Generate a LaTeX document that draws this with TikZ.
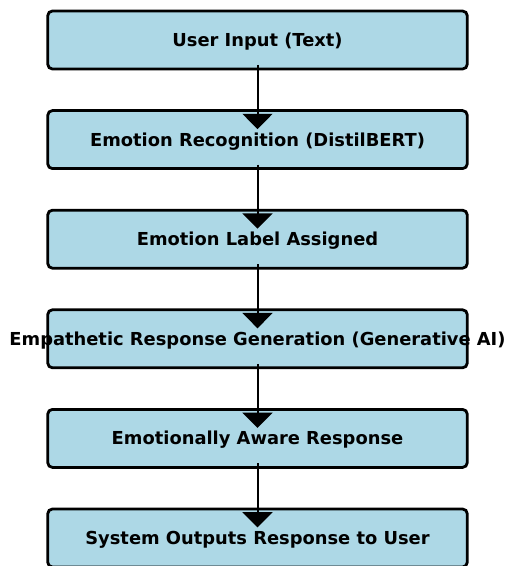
\documentclass[tikz,border=0pt]{standalone}
\usepackage{fontspec}
\setmainfont{DejaVu Sans}
\usepackage{tikz}
\usetikzlibrary{arrows.meta}
\usetikzlibrary{calc}
\definecolor{boxblue}{HTML}{ADD8E6}

\begin{document}
\begin{tikzpicture}[x=0.75pt, y=0.75pt,
        stepbox/.style={draw=black, fill=boxblue, line width=2.1pt, rounded corners=3.5pt,
            minimum width=419.5*0.75pt, minimum height=58*0.75pt, inner sep=0pt},
        steptext/.style={font=\bfseries\fontsize{13.4pt}{15pt}\selectfont, inner sep=0pt, yshift=-1.2pt},
        flow/.style={line width=1.5pt, -{Triangle[width=22.5pt, length=11.5pt]}}]
        \useasboundingbox (0,0) rectangle (507,-566);

        \node[stepbox] (input) at (257.5,-40) {};
        \node[stepbox] (recog) at (257.5,-139.6) {};
        \node[stepbox] (label) at (257.5,-239.2) {};
        \node[stepbox] (gen) at (257.5,-338.8) {};
        \node[stepbox] (aware) at (257.5,-438.4) {};
        \node[stepbox] (output) at (257.5,-538) {};

        \draw[flow] ($(input.center)+(0,-25)$) -- ($(recog.center)+(0,10.5)$);
        \draw[flow] ($(recog.center)+(0,-25)$) -- ($(label.center)+(0,10.5)$);
        \draw[flow] ($(label.center)+(0,-25)$) -- ($(gen.center)+(0,10.5)$);
        \draw[flow] ($(gen.center)+(0,-25)$) -- ($(aware.center)+(0,10.5)$);
        \draw[flow] ($(aware.center)+(0,-25)$) -- ($(output.center)+(0,10.5)$);

        \node[steptext] at (input) {User Input (Text)};
        \node[steptext] at (recog) {Emotion Recognition (DistilBERT)};
        \node[steptext] at (label) {Emotion Label Assigned};
        \node[steptext] at (gen) {Empathetic Response Generation (Generative AI)};
        \node[steptext] at (aware) {Emotionally Aware Response};
        \node[steptext] at (output) {System Outputs Response to User};
    \end{tikzpicture}
\end{document}
